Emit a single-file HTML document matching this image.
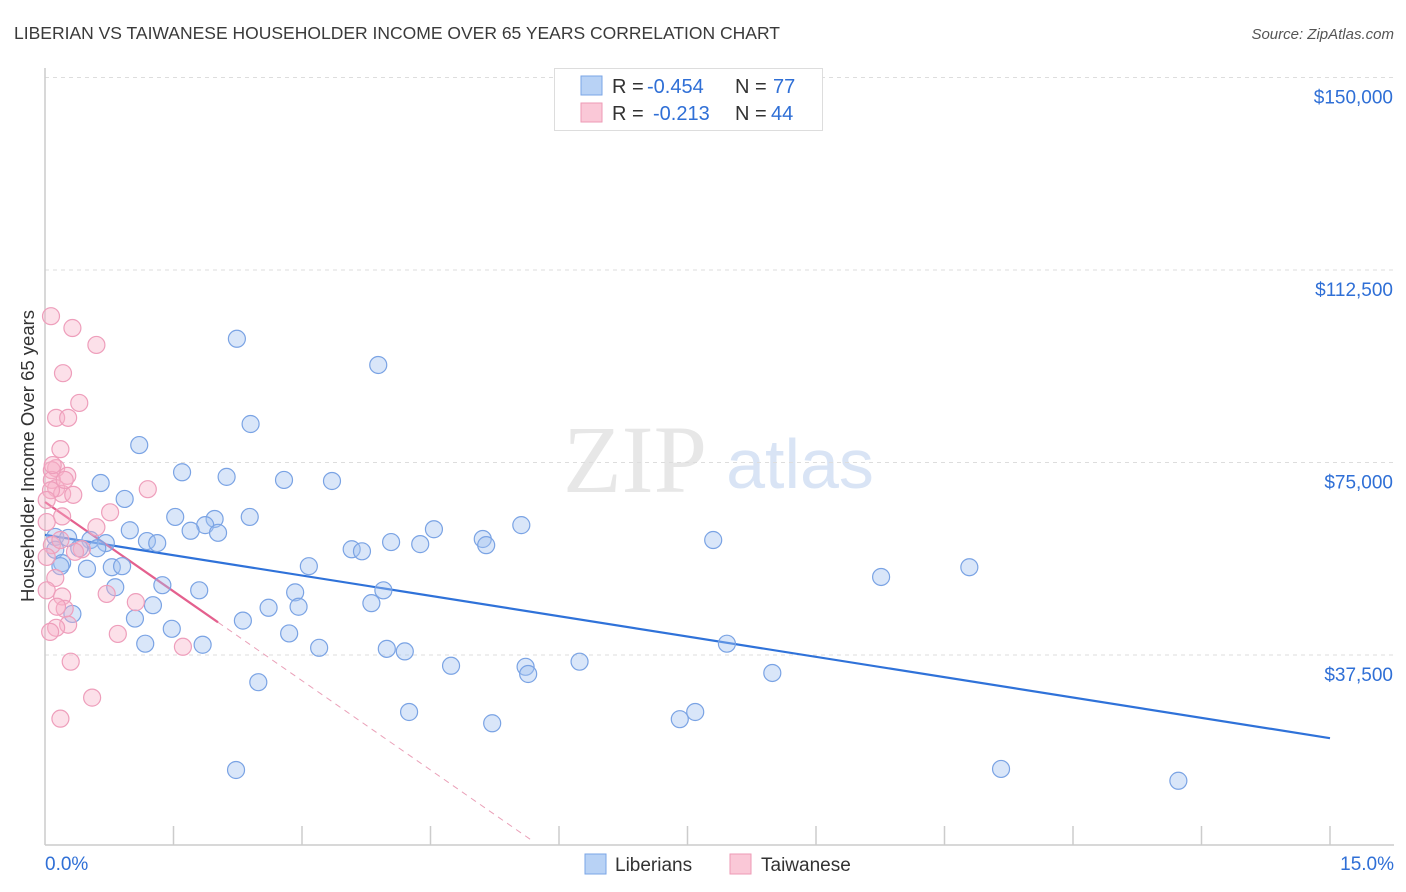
<!DOCTYPE html>
<html><head><meta charset="utf-8">
<style>
body{margin:0;background:#fff;font-family:"Liberation Sans",sans-serif;}
svg{display:block}
</style></head>
<body>
<svg id="chart" width="1406" height="892" xmlns="http://www.w3.org/2000/svg">
<text x="14" y="39" font-size="17.5" fill="#3a3a3a">LIBERIAN VS TAIWANESE HOUSEHOLDER INCOME OVER 65 YEARS CORRELATION CHART</text>
<text x="1394" y="39" font-size="15" fill="#555" font-style="italic" text-anchor="end">Source: ZipAtlas.com</text>
<text x="34" y="456" font-size="18.5" fill="#333" text-anchor="middle" transform="rotate(-90 34 456)">Householder Income Over 65 years</text>
<g>
<text x="635" y="492" font-size="96" fill="#ddd" font-family="Liberation Serif,serif" text-anchor="middle" opacity="0.7">ZIP</text>
<text x="800" y="488" font-size="70" fill="#c9daf2" text-anchor="middle" opacity="0.7">atlas</text>
</g>
<g id="grid"></g>
<g id="axes"></g>
<g id="lines"></g>
<g id="points"></g>
<g>
<rect x="554.5" y="68.5" width="268" height="62" fill="#fff" stroke="#ddd"/>
<rect x="581" y="76" width="21" height="19" fill="#b8d2f5" stroke="#7aa5e6"/>
<rect x="581" y="103" width="21" height="19" fill="#fac8d7" stroke="#ee9ab5"/>
<text x="612" y="93" font-size="20" fill="#333">R = <tspan x="647" fill="#2f6fd6">-0.454</tspan><tspan x="735">N = </tspan><tspan x="773" fill="#2f6fd6">77</tspan></text>
<text x="612" y="120" font-size="20" fill="#333">R = <tspan x="653" fill="#2f6fd6">-0.213</tspan><tspan x="735">N = </tspan><tspan x="771" fill="#2f6fd6">44</tspan></text>
</g>
<g>
<rect x="585" y="854" width="21" height="20" fill="#b8d2f5" stroke="#7aa5e6"/>
<text x="615" y="871" font-size="19" fill="#333">Liberians</text>
<rect x="730" y="854" width="21" height="20" fill="#fac8d7" stroke="#ee9ab5"/>
<text x="761" y="871" font-size="19" fill="#333">Taiwanese</text>
</g>
</svg>
<script>
const yTicks=[37500,75000,112500,150000];
const yTickLabels=["$37,500","$75,000","$112,500","$150,000"];
const xTickCount=10;
const xLabels=["0.0%","15.0%"];
const libX=[2.24,3.89,2.40,1.10,1.60,2.12,2.79,3.35,0.65,0.93,1.52,2.39,1.98,1.87,1.70,2.02,0.99,1.19,1.31,4.54,5.56,5.11,5.15,4.04,4.38,3.58,3.70,7.80,0.12,0.27,0.53,0.71,0.40,0.61,0.12,0.20,0.49,0.78,0.90,3.08,1.37,0.82,1.80,2.92,3.95,3.81,1.26,2.61,2.96,0.32,1.05,2.31,1.48,2.85,1.17,1.84,3.20,3.99,4.20,7.96,4.74,5.61,5.64,6.24,8.49,2.49,4.25,7.59,7.41,5.22,2.23,11.16,13.23,9.76,10.79,0.18];
const libY=[99.1,94.0,82.5,78.4,73.1,72.2,71.6,71.4,71.0,67.9,64.4,64.4,64.0,62.8,61.7,61.3,61.8,59.7,59.3,62.0,62.8,60.1,58.9,59.5,59.1,58.1,57.7,59.9,60.5,60.3,59.9,59.3,58.3,58.3,58.0,55.4,54.3,54.6,54.8,54.8,51.1,50.7,50.1,49.7,50.1,47.6,47.2,46.7,46.9,45.5,44.6,44.2,42.6,41.7,39.7,39.5,38.9,38.7,38.2,39.7,35.4,35.2,33.8,36.2,34.0,32.2,26.4,26.4,25.0,24.2,15.1,15.3,13.0,52.7,54.6,54.8];
const taiX=[0.07,0.32,0.60,0.21,0.40,0.13,0.27,0.18,0.13,0.08,0.26,0.08,0.13,0.20,0.33,1.20,0.07,0.76,0.20,0.60,0.02,0.08,0.43,0.12,0.02,0.20,1.06,0.72,0.23,0.14,0.27,0.13,0.06,0.85,1.61,0.30,0.55,0.18,0.09,0.23,0.02,0.35,0.18,0.02];
const taiY=[103.5,101.2,97.9,92.4,86.6,83.7,83.7,77.6,73.9,73.5,72.4,71.6,70.0,68.9,68.7,69.8,69.6,65.3,64.5,62.4,63.4,58.9,58.1,52.5,50.1,48.9,47.8,49.4,46.5,46.9,43.4,42.8,42.0,41.6,39.1,36.2,29.2,25.1,74.5,71.6,56.6,57.6,59.9,67.7];
const libTrend=[60.9,21.3];
const taiTrend=[67.3,-11.6];

const NS="http://www.w3.org/2000/svg";
const X0=45,X1=1330,Y0=847.5,YPER=192.5/37500;
const sx=p=>X0+(X1-X0)*p/15;
const sy=v=>Y0-v*YPER;
function mk(tag,attrs,parent){const e=document.createElementNS(NS,tag);for(const k in attrs)e.setAttribute(k,attrs[k]);parent.appendChild(e);return e;}
const grid=document.getElementById('grid'),axes=document.getElementById('axes'),lines=document.getElementById('lines'),pts=document.getElementById('points');
yTicks.forEach((t,i)=>{
 const y=sy(t);
 const l=mk('line',{x1:45,x2:1394,y1:y,y2:y,stroke:'#ddd','stroke-dasharray':'4,4'},grid);
 
 
 const tx=mk('text',{x:1393,y:y+26,'font-size':19,fill:'#2f6fd6','text-anchor':'end'},axes);
 tx.textContent=yTickLabels[i];
 
 
});
const ax=mk('line',{x1:45,x2:1394,y1:845,y2:845,stroke:'#ccc','stroke-width':1.5},axes);


const ay=mk('line',{x1:45,x2:45,y1:68,y2:845,stroke:'#ccc','stroke-width':1.5},axes);


for(let i=1;i<=xTickCount;i++){
 const x=sx(i*15/xTickCount);
 const t=mk('line',{x1:x,x2:x,y1:826,y2:845,stroke:'#ccc','stroke-width':1.5},axes);
 
 
}
const xl0=mk('text',{x:45,y:870,'font-size':19,fill:'#2f6fd6'},axes);xl0.textContent=xLabels[0];


const xl1=mk('text',{x:1394,y:870,'font-size':19,fill:'#2f6fd6','text-anchor':'end'},axes);xl1.textContent=xLabels[1];


libX.forEach((x,i)=>{
 const c=mk('circle',{cx:sx(x),cy:sy(libY[i]*1000),r:8.5,fill:'rgba(160,192,240,0.4)',stroke:'#7aa3e4','stroke-width':1.2},pts);
 
 
});
taiX.forEach((x,i)=>{
 const c=mk('circle',{cx:sx(x),cy:sy(taiY[i]*1000),r:8.5,fill:'rgba(247,178,200,0.4)',stroke:'#ee9ebb','stroke-width':1.2},pts);
 
 
});
const lb=mk('line',{x1:sx(0),y1:sy(libTrend[0]*1000),x2:sx(15),y2:sy(libTrend[1]*1000),stroke:'#2f72d9','stroke-width':2.2},lines);


const tEnd=2.02, tZero=-taiTrend[0]/taiTrend[1];
const tv=x=>(taiTrend[0]+taiTrend[1]*x)*1000;
const lt=mk('line',{x1:sx(0),y1:sy(tv(0)),x2:sx(tEnd),y2:sy(tv(tEnd)),stroke:'#e4608e','stroke-width':2.2},lines);


const ld=mk('line',{x1:sx(tEnd),y1:sy(tv(tEnd)),x2:sx(tZero-0.1),y2:sy(tv(tZero-0.1)),stroke:'#eaa0b8','stroke-width':1,'stroke-dasharray':'6,5'},lines);


</script>
</body></html>
